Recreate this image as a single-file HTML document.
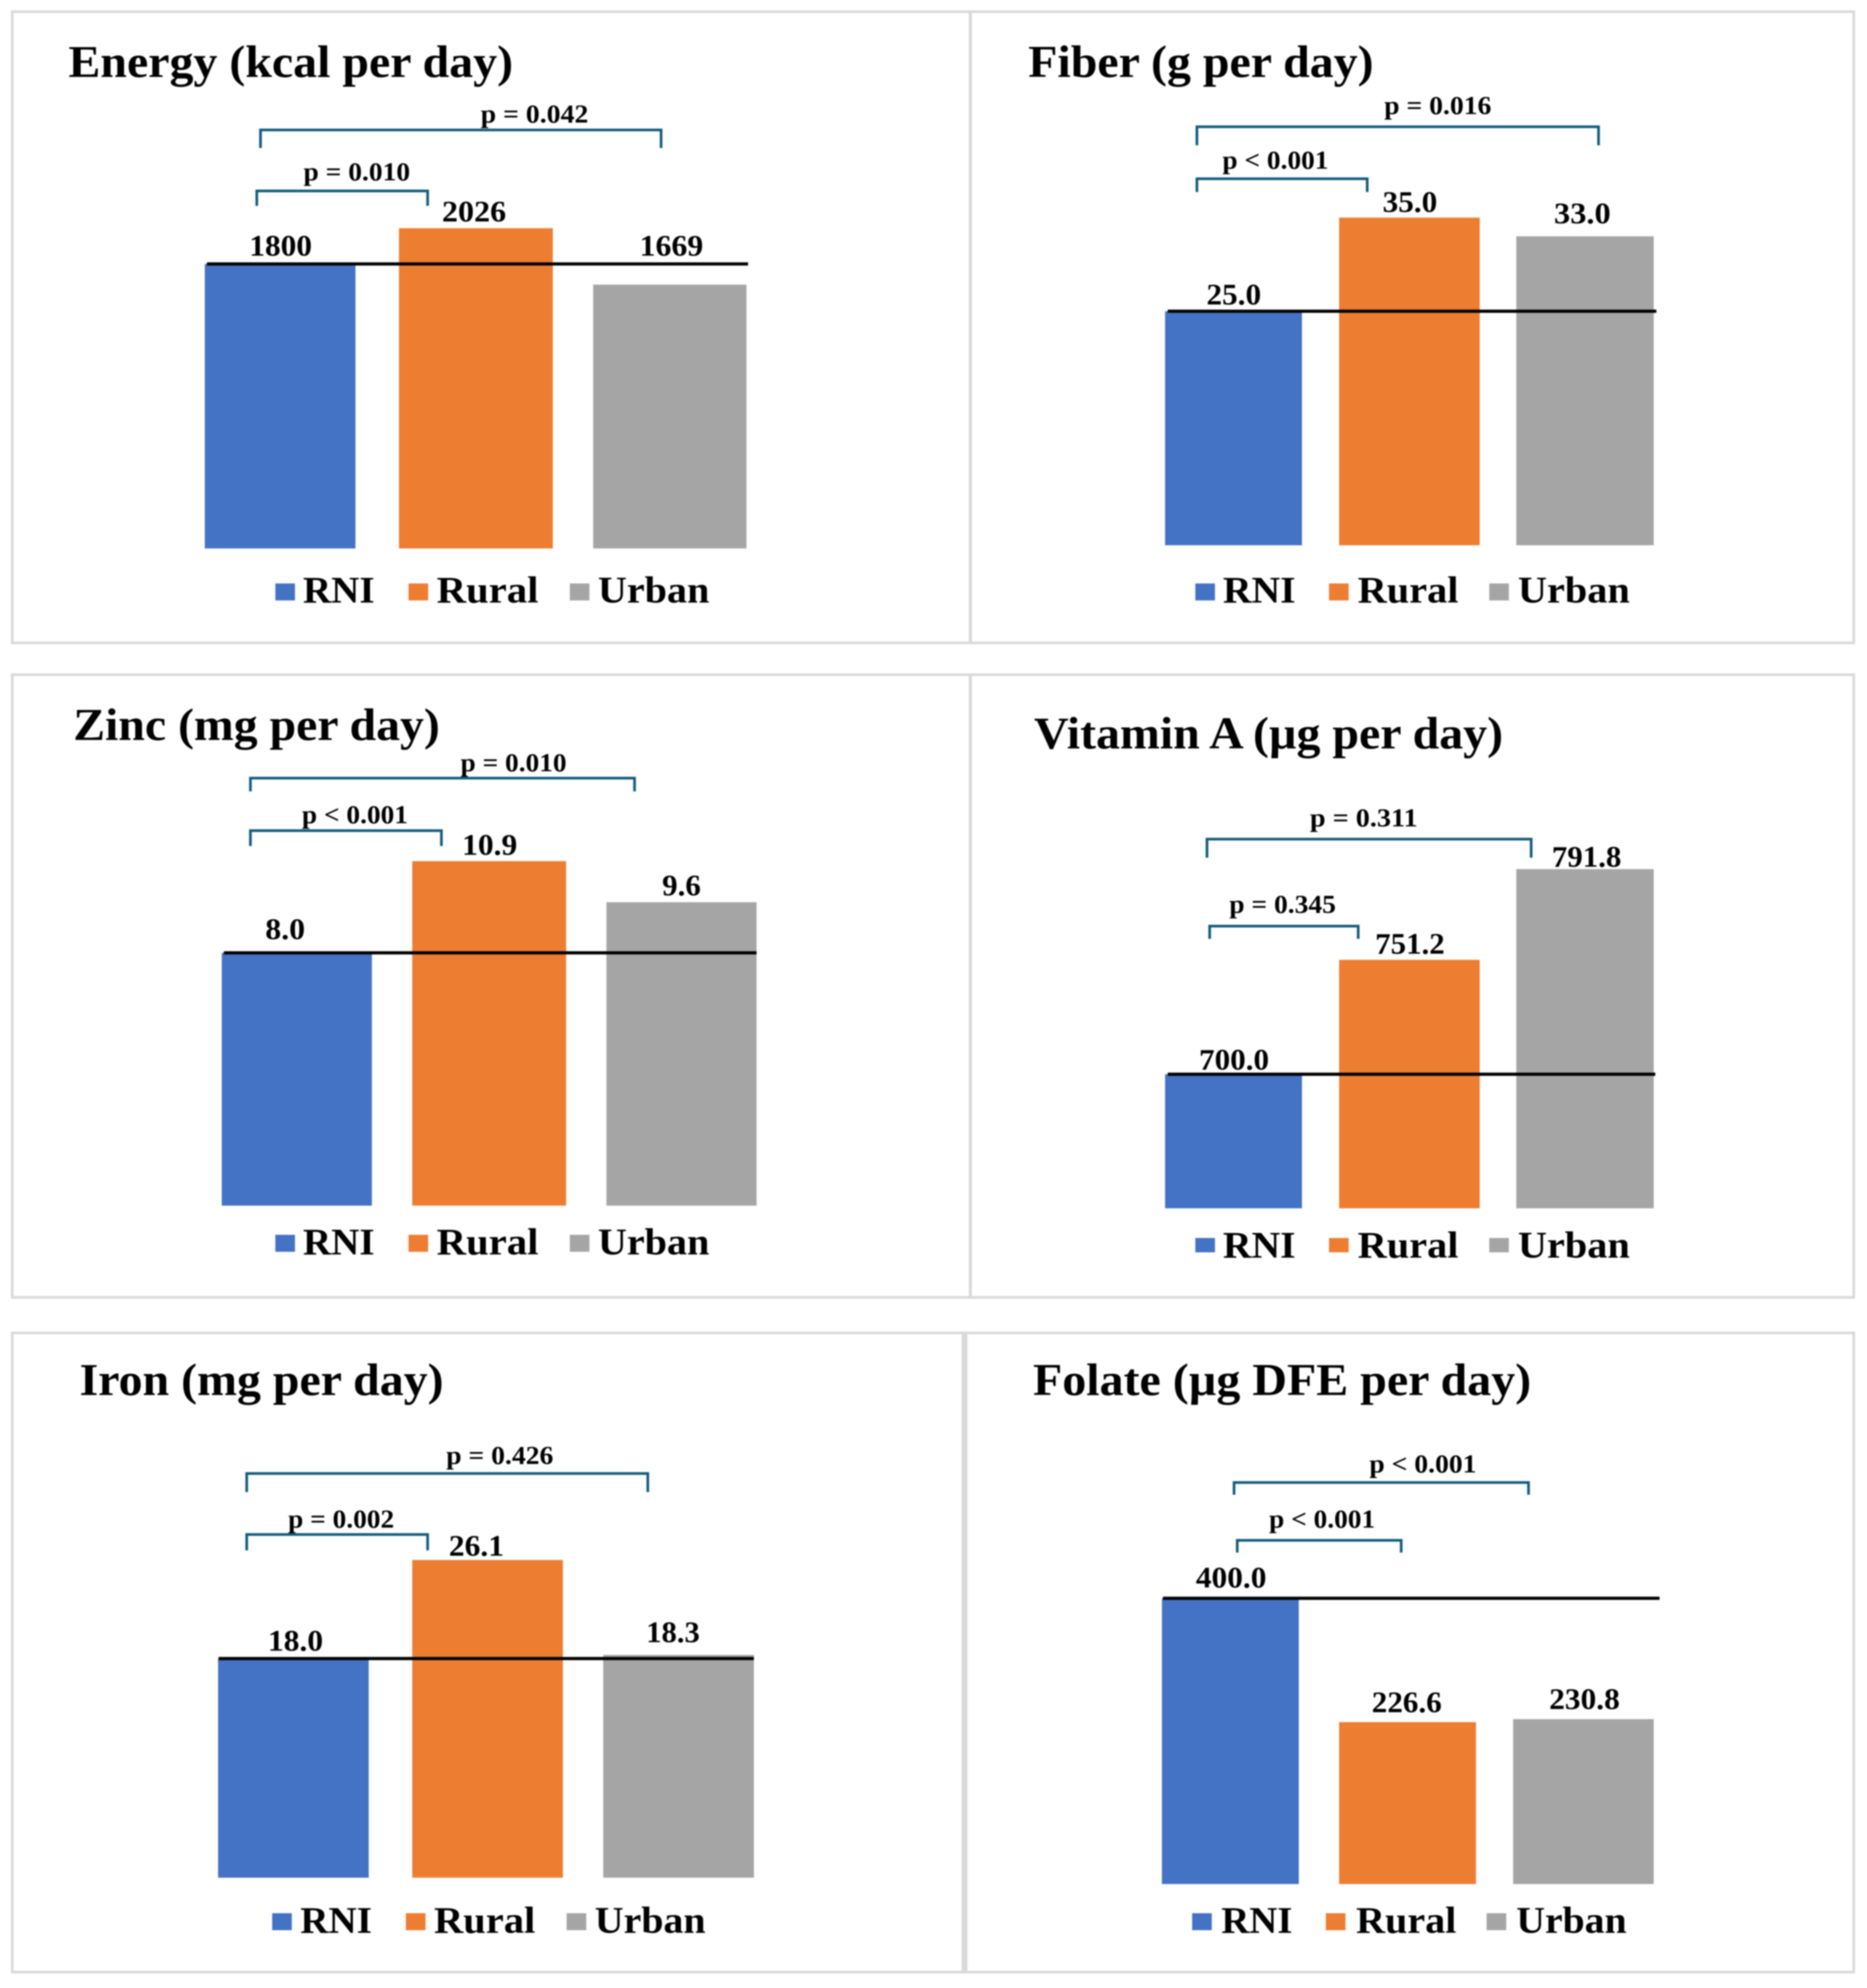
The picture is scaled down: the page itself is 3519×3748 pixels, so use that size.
<!DOCTYPE html>
<html lang="en">
<head>
<meta charset="utf-8">
<title>Nutrient intake vs RNI</title>
<style>
html,body{margin:0;padding:0;background:#fff;}
#figure{display:block;width:3519px;height:3748px;filter:blur(1.4px);}
text{font-family:"Liberation Serif","DejaVu Serif",serif;font-weight:700;fill:#000;}
</style>
</head>
<body>
<svg id="figure" xmlns="http://www.w3.org/2000/svg" width="3519" height="3748" viewBox="0 0 3519 3748">
  <rect x="0" y="0" width="3519" height="3748" fill="#ffffff"/>
  <g fill="none" stroke="#d9d9d9">
    <rect x="23" y="22" width="3471" height="1190" stroke-width="5"/>
    <line x1="1829" y1="22" x2="1829" y2="1212" stroke-width="6"/>
    <rect x="23" y="1272" width="3471" height="1174" stroke-width="5"/>
    <line x1="1829" y1="1272" x2="1829" y2="2446" stroke-width="6"/>
    <rect x="23" y="2513" width="3471" height="1205" stroke-width="5"/>
    <line x1="1818" y1="2513" x2="1818" y2="3718" stroke-width="11"/>
  </g>
  <g>
    <text x="129" y="145" font-size="86" textLength="838" lengthAdjust="spacingAndGlyphs">Energy (kcal per day)</text>
    <text x="1938" y="145" font-size="86" textLength="651" lengthAdjust="spacingAndGlyphs">Fiber (g per day)</text>
    <text x="138" y="1395" font-size="86" textLength="691" lengthAdjust="spacingAndGlyphs">Zinc (mg per day)</text>
    <text x="1949" y="1411" font-size="86" textLength="884" lengthAdjust="spacingAndGlyphs">Vitamin A (µg per day)</text>
    <text x="150" y="2630" font-size="86" textLength="686" lengthAdjust="spacingAndGlyphs">Iron (mg per day)</text>
    <text x="1947" y="2630" font-size="86" textLength="939" lengthAdjust="spacingAndGlyphs">Folate (µg DFE per day)</text>
  </g>
  <g id="charts"></g>
</svg>
<script>
const categories = ['RNI', 'Rural', 'Urban'];
const energyValues = [1800, 2026, 1669];
const fiberValues = [25.0, 35.0, 33.0];
const zincValues = [8.0, 10.9, 9.6];
const vitaminAValues = [700.0, 751.2, 791.8];
const ironValues = [18.0, 26.1, 18.3];
const folateValues = [400.0, 226.6, 230.8];
const energyPLabels = ['p = 0.010', 'p = 0.042'];
const fiberPLabels = ['p < 0.001', 'p = 0.016'];
const zincPLabels = ['p < 0.001', 'p = 0.010'];
const vitaminAPLabels = ['p = 0.345', 'p = 0.311'];
const ironPLabels = ['p = 0.002', 'p = 0.426'];
const folatePLabels = ['p < 0.001', 'p < 0.001'];
const seriesColors = ['#4472C4', '#ED7D31', '#A5A5A5'];

const SVG_NS = 'http://www.w3.org/2000/svg';
const root = document.getElementById('charts');

function make(parent, tag, attrs, text) {
  const el = document.createElementNS(SVG_NS, tag);
  Object.keys(attrs).forEach(function (k) { el.setAttribute(k, attrs[k]); });
  if (text !== undefined) el.textContent = text;
  parent.appendChild(el);
  return el;
}

function drawPanel(p) {
  const g = make(root, 'g', {});
  
  

  const yScale = function (v) {
    return p.yBase - (v - p.yMin) / (p.yMax - p.yMin) * p.plotHeight;
  };
  const xScale = function (i) {
    return p.xCenter + i * p.xStep;
  };

  p.values.forEach(function (v, i) {
    const top = yScale(v);
    const bar = make(g, 'rect', {
      x: xScale(i) + p.barDx[i] - p.barWidth[i] / 2,
      y: top,
      width: p.barWidth[i],
      height: yScale(p.yMin) - top,
      fill: seriesColors[i]
    });
    
    
  });

  const refY = yScale(p.values[0]);
  const refLine = make(g, 'line', {
    x1: p.refX[0], x2: p.refX[1], y1: refY, y2: refY,
    stroke: '#000', 'stroke-width': 6
  });
  
  

  p.values.forEach(function (v, i) {
    const label = make(g, 'text', {
      x: xScale(i) + p.labelDx[i],
      y: yScale(v) - p.labelGap[i] + 1,
      'font-size': 56,
      'text-anchor': 'middle',
      textLength: p.labelWidth[i],
      lengthAdjust: 'spacingAndGlyphs'
    }, v.toFixed(p.decimals));
    
    
  });

  p.brackets.forEach(function (b, i) {
    const path = make(g, 'path', {
      d: 'M' + b.x1 + ' ' + b.bottom + 'V' + b.top + 'H' + b.x2 + 'V' + b.bottom,
      fill: 'none', stroke: '#125b7c', 'stroke-width': 5
    });
    
    
    const pText = make(g, 'text', {
      x: b.textX, y: b.textY + 1, 'font-size': 49,
      textLength: b.textW, lengthAdjust: 'spacingAndGlyphs'
    }, p.pLabels[i]);
    
    
  });

  categories.forEach(function (c, i) {
    const swatch = make(g, 'rect', {
      x: p.legend.swatchX[i], y: p.legend.swatchY,
      width: 37, height: p.legend.swatchH,
      fill: seriesColors[i]
    });
    
    
    const t = make(g, 'text', {
      x: p.legend.textX[i], y: p.legend.baseline + 2, 'font-size': 71,
      textLength: p.legend.textW[i], lengthAdjust: 'spacingAndGlyphs'
    }, c);
    
    
  });
}

const legendLeft = { swatchX: [519, 770, 1074], textX: [571, 823, 1127], textW: [135, 192, 210] };
const legendRight = { swatchX: [2253, 2505, 2807], textX: [2305, 2559, 2861], textW: [137, 190, 211] };

drawPanel({
  name: 'energy', values: energyValues, pLabels: energyPLabels, decimals: 0,
  yMin: 0, yMax: 2500, yBase: 1034, plotHeight: 745,
  xCenter: 528, xStep: 367, barWidth: [284, 290, 289], barDx: [0, 2, 0.5], refX: [390, 1410],
  labelDx: [1, -1.5, 3.5], labelGap: [16.6, 14, 55.6], labelWidth: [118, 121, 120],
  brackets: [
    { x1: 484, x2: 806, top: 360, bottom: 388, textX: 572, textY: 339, textW: 201 },
    { x1: 491, x2: 1246, top: 245, bottom: 279, textX: 906, textY: 230, textW: 203 }
  ],
  legend: Object.assign({ swatchY: 1100, swatchH: 32, baseline: 1134 }, legendLeft)
});

drawPanel({
  name: 'fiber', values: fiberValues, pLabels: fiberPLabels, decimals: 1,
  yMin: 0, yMax: 40, yBase: 1028, plotHeight: 706,
  xCenter: 2325, xStep: 331, barWidth: [258, 265, 259], barDx: [0, 0.5, 0.5], refX: [2201, 3122],
  labelDx: [0.5, 1.5, -4.5], labelGap: [14, 12, 25.5], labelWidth: [103, 103, 107],
  brackets: [
    { x1: 2256, x2: 2577, top: 337, bottom: 362, textX: 2304, textY: 317, textW: 200 },
    { x1: 2256, x2: 3013, top: 239, bottom: 274, textX: 2609, textY: 214, textW: 202 }
  ],
  legend: Object.assign({ swatchY: 1100, swatchH: 32, baseline: 1134 }, legendRight)
});

drawPanel({
  name: 'zinc', values: zincValues, pLabels: zincPLabels, decimals: 1,
  yMin: 0, yMax: 12, yBase: 2273, plotHeight: 715,
  xCenter: 559.5, xStep: 362.5, barWidth: [283, 290, 283], barDx: [0, 0, 0], refX: [422, 1426],
  labelDx: [-22, 1, 0], labelGap: [27, 13, 14], labelWidth: [75, 104, 73],
  brackets: [
    { x1: 472, x2: 832, top: 1566, bottom: 1595, textX: 569, textY: 1551, textW: 200 },
    { x1: 472, x2: 1196, top: 1467, bottom: 1492, textX: 868, textY: 1453, textW: 200 }
  ],
  legend: Object.assign({ swatchY: 2328, swatchH: 32, baseline: 2363 }, legendLeft)
});

drawPanel({
  name: 'vitamin-a', values: vitaminAValues, pLabels: vitaminAPLabels, decimals: 1,
  yMin: 640, yMax: 800, yBase: 2278, plotHeight: 674,
  xCenter: 2325, xStep: 331, barWidth: [258, 265, 259], barDx: [0, 0.5, 0.5], refX: [2201, 3120],
  labelDx: [1, 1.5, 3.5], labelGap: [10, 12.6, 5.5], labelWidth: [132, 131, 131],
  brackets: [
    { x1: 2280, x2: 2560, top: 1746, bottom: 1770, textX: 2317, textY: 1720, textW: 201 },
    { x1: 2275, x2: 2886, top: 1582, bottom: 1617, textX: 2469, textY: 1557, textW: 203 }
  ],
  legend: Object.assign({ swatchY: 2334, swatchH: 27, baseline: 2369 }, legendRight)
});

drawPanel({
  name: 'iron', values: ironValues, pLabels: ironPLabels, decimals: 1,
  yMin: 0, yMax: 30, yBase: 3540, plotHeight: 688.5,
  xCenter: 553, xStep: 363, barWidth: [284, 284, 284], barDx: [0, 3, 0], refX: [412, 1421],
  labelDx: [4, -18, -10.5], labelGap: [16, 9, 25], labelWidth: [104, 104, 101],
  brackets: [
    { x1: 465, x2: 806, top: 2893, bottom: 2923, textX: 543, textY: 2879, textW: 200 },
    { x1: 465, x2: 1221, top: 2778, bottom: 2813, textX: 841, textY: 2759, textW: 202 }
  ],
  legend: { swatchX: [513, 765, 1068], textX: [566, 818, 1121], textW: [135, 191, 209], swatchY: 3607, swatchH: 32, baseline: 3642 }
});

drawPanel({
  name: 'folate', values: folateValues, pLabels: folatePLabels, decimals: 1,
  yMin: 0, yMax: 500, yBase: 3552, plotHeight: 673.5,
  xCenter: 2319, xStep: 332.5, barWidth: [258, 258, 265], barDx: [0, 1.5, 0.5], refX: [2192, 3128],
  labelDx: [1.5, 0, 2.5], labelGap: [21, 20, 20], labelWidth: [133, 132, 133],
  brackets: [
    { x1: 2332, x2: 2641, top: 2904, bottom: 2927, textX: 2392, textY: 2879, textW: 200 },
    { x1: 2326, x2: 2881, top: 2795, bottom: 2818, textX: 2581, textY: 2775, textW: 202 }
  ],
  legend: { swatchX: [2247, 2499, 2802], textX: [2302, 2556, 2858], textW: [134, 189, 208], swatchY: 3607, swatchH: 32, baseline: 3642 }
});
</script>
</body>
</html>
